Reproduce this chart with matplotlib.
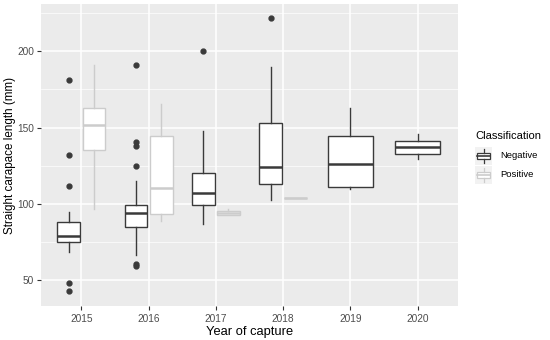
import matplotlib.pyplot as plt
from matplotlib.patches import Rectangle

plt.rcParams['font.family'] = ['Liberation Sans', 'DejaVu Sans']

years = [2015, 2016, 2017, 2018, 2019, 2020]

# Negative: whislo, q1, med, q3, whishi, outliers
neg_year = [2015, 2016, 2017, 2018, 2019, 2020]
neg_whislo = [68.6, 66.7, 87.0, 102.7, 109.8, 129.1]
neg_q1 = [75.1, 84.9, 99.0, 113.1, 110.9, 132.6]
neg_med = [78.6, 93.8, 107.4, 124.1, 125.9, 137.1]
neg_q3 = [88.1, 99.4, 120.0, 153.0, 144.3, 141.0]
neg_whishi = [94.6, 115.2, 147.8, 190.0, 163.1, 146.0]
neg_fliers = [[180.9, 131.7, 112.0, 48.3, 42.6],
              [190.9, 140.4, 138.2, 125.0, 60.4, 58.9],
              [200.0],
              [222.0],
              [], []]

pos_year = [2015, 2016, 2017, 2018]
pos_whislo = [96.4, 88.8, 92.5, 103.5]
pos_q1 = [135.4, 93.6, 92.9, 103.5]
pos_med = [151.9, 110.3, 94.2, 103.5]
pos_q3 = [162.9, 144.3, 95.6, 103.5]
pos_whishi = [190.9, 165.3, 96.4, 103.5]

neg_col = '#3A3A3A'
pos_col = '#CCCCCC'

fig = plt.figure(figsize=(5.5, 3.4), dpi=100)
ax = fig.add_axes([41/550, 1-306/340, (458-41)/550, (306-4)/340])
ax.set_facecolor('#EBEBEB')

def stats(whislo, q1, med, q3, whishi, fliers=None):
    out = []
    for i in range(len(med)):
        out.append(dict(whislo=whislo[i], q1=q1[i], med=med[i], q3=q3[i],
                        whishi=whishi[i], fliers=fliers[i] if fliers else []))
    return out

neg_stats = stats(neg_whislo, neg_q1, neg_med, neg_q3, neg_whishi, neg_fliers)
pos_stats = stats(pos_whislo, pos_q1, pos_med, pos_q3, pos_whishi)

# dodge: two groups where both present, full width otherwise
neg_pos, neg_w = [], []
for y in neg_year:
    if y in pos_year:
        neg_pos.append(y - 0.1875)
        neg_w.append(0.3375)
    else:
        neg_pos.append(y)
        neg_w.append(0.675)
pos_pos = [y + 0.1875 for y in pos_year]
pos_w = [0.3375] * len(pos_year)

def draw(st, positions, widths, col):
    ax.bxp(st, positions=positions, widths=widths, patch_artist=True,
           showcaps=False, manage_ticks=False,
           boxprops=dict(facecolor='white', edgecolor=col, linewidth=1.0),
           medianprops=dict(color=col, linewidth=1.8),
           whiskerprops=dict(color=col, linewidth=1.0),
           flierprops=dict(marker='o', markerfacecolor=col, markeredgecolor=col,
                           markersize=3.5, linestyle='none'), zorder=3)

draw(neg_stats, neg_pos, neg_w, neg_col)
draw(pos_stats, pos_pos, pos_w, pos_col)

ax.set_xlim(2014.4, 2020.6)
ax.set_ylim(33, 231)
ax.set_xticks(years)
ax.set_yticks([50, 100, 150, 200])
ax.set_yticks([75, 125, 175, 225], minor=True)
ax.grid(which='major', color='white', linewidth=1.1, zorder=0)
ax.grid(which='minor', axis='y', color='white', linewidth=0.5, zorder=0)
ax.set_axisbelow(True)
for s in ax.spines.values():
    s.set_visible(False)
ax.tick_params(which='major', colors='#333333', labelcolor='#4D4D4D', length=3,
               width=0.8, labelsize=7.3, pad=2)
ax.tick_params(which='minor', length=0)
ax.tick_params(axis='x', pad=2.5)
ax.set_xlabel('Year of capture', fontsize=9.3, labelpad=2, color='black')
ax.set_ylabel('Straight carapace length (mm)', fontsize=8.4, color='black')
ax.yaxis.set_label_coords(-0.06, 0.5)

# legend
fig.text(475/550, 1-136/340, 'Classification', fontsize=8.0, va='center', ha='left')
labels = ['Negative', 'Positive']
cols = [neg_col, pos_col]
for i, (lab, c) in enumerate(zip(labels, cols)):
    yc = 156 + i*19
    kax = fig.add_axes([475/550, 1-(yc+9)/340, 17/550, 18/340])
    kax.set_xlim(0, 1)
    kax.set_ylim(0, 1)
    kax.axis('off')
    kax.add_patch(Rectangle((0, 0), 1, 1, color='#F2F2F2'))
    kax.plot([0.5, 0.5], [0.1, 0.32], color=c, lw=0.9)
    kax.plot([0.5, 0.5], [0.68, 0.9], color=c, lw=0.9)
    kax.add_patch(Rectangle((0.12, 0.32), 0.76, 0.36, facecolor='white', edgecolor=c, lw=0.9))
    kax.plot([0.12, 0.88], [0.5, 0.5], color=c, lw=1.2)
    fig.text(500/550, 1-yc/340, lab, fontsize=6.8, va='center', ha='left')

fig.savefig('out.png', dpi=100, facecolor='white')
